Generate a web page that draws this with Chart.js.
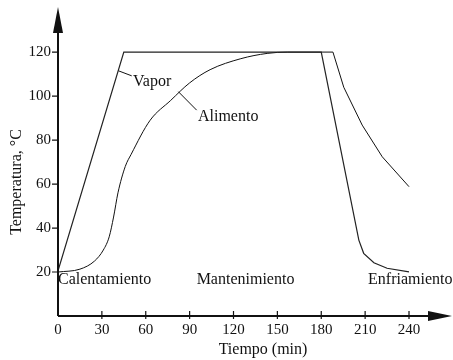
<!DOCTYPE html>
<html>
<head>
<meta charset="utf-8">
<script src="https://cdn.jsdelivr.net/npm/chart.js@4.4.0/dist/chart.umd.min.js"></script>
<style>
  html, body { margin: 0; padding: 0; background: #fff; }
  canvas { display: block; }
</style>
</head>
<body>
<canvas id="chart" width="453" height="360"></canvas>
<script>
// data
const timeVapor = [0, 45, 180, 205.7, 209, 216, 225, 240];
const tempVapor = [20.5, 120, 120, 34.5, 28.5, 24.2, 21.7, 20.1];

// food: heating part (smooth) and cooling part (straight pieces)
const timeFoodHeat = [0, 15, 25, 31, 35, 38, 41, 46, 50, 63, 77, 90, 104, 125, 143, 157, 188];
const tempFoodHeat = [20, 21.3, 25, 30, 36, 45, 56, 68, 73.5, 89, 98, 106, 112, 117, 119.4, 120, 120];
const timeFoodCool = [188, 195.4, 208, 221.7, 240];
const tempFoodCool = [120, 104, 86.8, 72.4, 58.8];

const xTicks = [0, 30, 60, 90, 120, 150, 180, 210, 240];
const yTicks = [20, 40, 60, 80, 100, 120];

const FONT = "'Liberation Serif', 'Times New Roman', serif";

// ///////////////////////////
// axes, arrows, ticks and the texts on the plot
// ///////////////////////////
const decor = {
  id: "decor",
  afterDatasetsDraw(chart) {
    const ctx = chart.ctx;
    const xs = chart.scales.x, ys = chart.scales.y;
    const area = chart.chartArea;
    const px = v => xs.getPixelForValue(v);
    const py = v => ys.getPixelForValue(v);

    ctx.save();
    ctx.strokeStyle = "#111";
    ctx.fillStyle = "#111";

    // axis lines
    ctx.lineWidth = 2;
    ctx.beginPath();
    ctx.moveTo(area.left, area.bottom);
    ctx.lineTo(area.left, area.top + 20);
    ctx.moveTo(area.left, area.bottom);
    ctx.lineTo(area.right - 18, area.bottom);
    ctx.stroke();

    // arrow heads
    ctx.beginPath();
    ctx.moveTo(area.left, area.top);
    ctx.lineTo(area.left - 5, area.top + 26);
    ctx.lineTo(area.left + 5, area.top + 26);
    ctx.closePath();
    ctx.fill();
    ctx.beginPath();
    ctx.moveTo(area.right, area.bottom);
    ctx.lineTo(area.right - 24, area.bottom - 5);
    ctx.lineTo(area.right - 24, area.bottom + 5);
    ctx.closePath();
    ctx.fill();

    // tick marks
    ctx.lineWidth = 1.2;
    ctx.beginPath();
    yTicks.forEach(v => {
      ctx.moveTo(area.left - 6, py(v));
      ctx.lineTo(area.left, py(v));
    });
    xTicks.forEach(v => {
      if (v === 0) return;
      ctx.moveTo(px(v), area.bottom - 5);
      ctx.lineTo(px(v), area.bottom + 3);
    });
    ctx.stroke();

    // leader lines for the curve names
    ctx.lineWidth = 1;
    ctx.beginPath();
    ctx.moveTo(px(41.3), py(111.5));
    ctx.lineTo(px(50.4), py(109.2));
    ctx.moveTo(px(82.3), py(102));
    ctx.lineTo(px(94.8), py(93.6));
    ctx.stroke();

    ctx.font = "16px " + FONT;
    ctx.textBaseline = "middle";
    ctx.textAlign = "left";
    ctx.fillText("Vapor", px(51.3), py(106.4));
    ctx.fillText("Alimento", px(95.7), py(90.5));

    // phases
    ctx.fillText("Calentamiento", px(0), py(16.4));
    ctx.fillText("Mantenimiento", px(94.8), py(16.4));
    ctx.fillText("Enfriamiento", px(212), py(16.4));

    // axis titles
    ctx.textAlign = "center";
    ctx.fillText("Tiempo (min)", 263, 350);
    ctx.save();
    ctx.translate(17, 182);
    ctx.rotate(-Math.PI / 2);
    ctx.fillText("Temperatura, \u00B0C", 0, 0);
    ctx.restore();

    ctx.restore();
  }
};

const lineStyle = {
  showLine: true,
  borderColor: "#111",
  borderWidth: 1,
  pointRadius: 0,
};

const ctx = document.getElementById("chart").getContext("2d");
new Chart(ctx, {
  type: "scatter",
  data: {
    datasets: [
      {
        ...lineStyle,
        label: "Vapor",
        data: timeVapor.map((t, i) => ({ x: t, y: tempVapor[i] })),
        borderColor: "#222",
        borderWidth: 1.2,
        tension: 0,
      },
      {
        ...lineStyle,
        label: "Alimento",
        data: timeFoodHeat.map((t, i) => ({ x: t, y: tempFoodHeat[i] })),
        cubicInterpolationMode: "monotone",
      },
      {
        ...lineStyle,
        label: "Alimento (enfriamiento)",
        data: timeFoodCool.map((t, i) => ({ x: t, y: tempFoodCool[i] })),
        tension: 0,
      },
    ],
  },
  options: {
    responsive: false,
    animation: false,
    devicePixelRatio: 1,
    layout: { padding: { left: 0, top: 7, right: 1, bottom: 0 } },
    plugins: {
      legend: { display: false },
      tooltip: { enabled: false },
    },
    scales: {
      x: {
        type: "linear",
        min: 0,
        max: 269.4,
        afterBuildTicks: s => { s.ticks = xTicks.map(v => ({ value: v })); },
        afterFit: s => { s.height = 44; s.paddingLeft = 0; s.paddingRight = 0; },
        grid: { display: false, drawTicks: false },
        border: { display: false },
        ticks: {
          padding: 5,
          color: "#111",
          font: { family: FONT, size: 15 },
        },
      },
      y: {
        type: "linear",
        min: 0,
        max: 140.5,
        afterBuildTicks: s => { s.ticks = yTicks.map(v => ({ value: v })); },
        afterFit: s => { s.width = 58; s.paddingTop = 0; s.paddingBottom = 0; },
        grid: { display: false, drawTicks: false },
        border: { display: false },
        ticks: {
          padding: 7,
          color: "#111",
          font: { family: FONT, size: 15 },
        },
      },
    },
  },
  plugins: [decor],
});
</script>
</body>
</html>
